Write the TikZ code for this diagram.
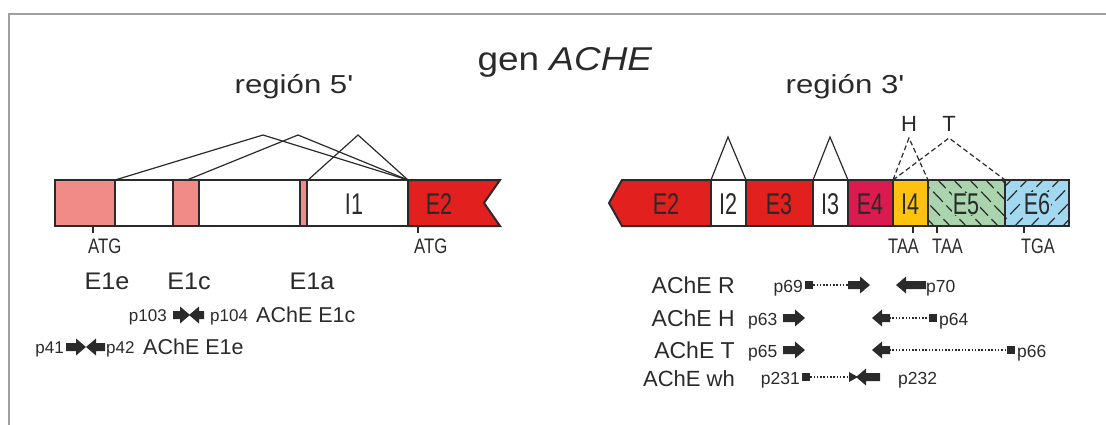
\documentclass[tikz,border=0pt]{standalone}
\usepackage{fontspec}
\setmainfont{Liberation Sans}[Ligatures=TeXOff]
\usepackage{graphicx}
\definecolor{pinkx}{HTML}{F08B87}
\definecolor{redx}{HTML}{E2201E}
\definecolor{crimx}{HTML}{DB1A50}
\definecolor{yelx}{HTML}{FFC30F}
\definecolor{grnx}{HTML}{A9D4AE}
\definecolor{blux}{HTML}{A3D8F1}
\definecolor{inkx}{HTML}{2A2A2A}
\definecolor{framex}{HTML}{A0A0A0}
\newcommand\sx[3]{\scalebox{#1}[1]{\fontsize{#2}{#2}\selectfont #3}}
\newcommand\primR[3]{\fill[inkx] ({#1},{#3-4}) -- ({#2-10},{#3-4}) -- ({#2-10},{#3-8.5}) -- ({#2},{#3}) -- ({#2-10},{#3+8.5}) -- ({#2-10},{#3+4}) -- ({#1},{#3+4}) -- cycle;}
\newcommand\primL[3]{\fill[inkx] ({#2},{#3-4}) -- ({#1+10},{#3-4}) -- ({#1+10},{#3-8.5}) -- ({#1},{#3}) -- ({#1+10},{#3+8.5}) -- ({#1+10},{#3+4}) -- ({#2},{#3+4}) -- cycle;}
\tikzset{
  exon/.style={draw=inkx, line width=2pt},
  splice/.style={draw=inkx, line width=1.2pt},
  dsplice/.style={draw=inkx, line width=1.2pt, dash pattern=on 5pt off 3pt},
  tick/.style={draw=inkx, line width=2.5pt},
  lbl/.style={inner sep=0pt, text=inkx},
  hatch/.style={draw=inkx, line width=1.2pt, dash pattern=on 14pt off 5pt},
  dots/.style={draw=inkx, line width=1.8pt, dash pattern=on 1.5pt off 1.8pt},
  sq/.style={fill=inkx, minimum size=8pt, inner sep=0pt}
}
\begin{document}
\begin{tikzpicture}[x=1pt,y=-1pt]
\useasboundingbox (0,0) rectangle (1106,424);
% frame
\draw[framex, line width=2pt] (9,425) -- (9,14) -- (1107,14);
% titles
\node[lbl, anchor=base] (title) at (565,70) {\sx{1.12}{33}{gen \textit{ACHE}}};
\node[lbl, anchor=base] (reg5) at (294,93) {\sx{1.2}{26}{región 5'}};
\node[lbl, anchor=base] (reg3) at (845,93) {\sx{1.2}{26}{región 3'}};

% ---------- left bar ----------
\path[exon, fill=pinkx] (55,180) rectangle (115,226);
\path[exon, fill=white] (115,180) rectangle (173,226);
\path[exon, fill=pinkx] (173,180) rectangle (199,226);
\path[exon, fill=white] (199,180) rectangle (300,226);
\path[exon, fill=pinkx] (300,180) rectangle (307,226);
\path[exon, fill=white] (307,180) rectangle (408,226);
\path[exon, fill=redx] (408,180) -- (500,180) -- (484,203) -- (500,226) -- (408,226) -- cycle;
\node[lbl] (i1) at (354,204) {\sx{0.72}{30}{I1}};
\node[lbl] (e2l) at (439,204) {\sx{0.72}{30}{E2}};
% splice lines left
\coordinate (s1a) at (115,180); \coordinate (s1p) at (263,135);
\coordinate (s2a) at (187,180); \coordinate (s2p) at (298,135);
\coordinate (s3a) at (308,180); \coordinate (s3p) at (358,135);
\coordinate (send) at (408,180);
\draw[splice] (s1a) -- (s1p) -- (send);
\draw[splice] (s2a) -- (s2p) -- (send);
\draw[splice] (s3a) -- (s3p) -- (send);
% ATG
\coordinate (atg1) at (93,226); \coordinate (atg2) at (418,226);
\draw[tick] (atg1) -- ++(0,7);
\draw[tick] (atg2) -- ++(0,7);
\node[lbl, anchor=base west] (atgl1) at (88,253) {\sx{0.8}{21}{ATG}};
\node[lbl, anchor=base west] (atgl2) at (414,253) {\sx{0.8}{21}{ATG}};
% exon names
\node[lbl, anchor=base] (e1e) at (107,289) {\sx{1.05}{24}{E1e}};
\node[lbl, anchor=base] (e1c) at (189,289) {\sx{1.05}{24}{E1c}};
\node[lbl, anchor=base] (e1a) at (312,289) {\sx{1.05}{24}{E1a}};
% primers left
\node[lbl, anchor=base east] (p103) at (167,321) {\fontsize{17}{17}\selectfont p103};
\primR{173}{190}{315}
\primL{189}{204}{315}
\node[lbl, anchor=base west] (p104) at (210,321) {\fontsize{17}{17}\selectfont p104};
\node[lbl, anchor=base west] (ache1c) at (256,322) {\sx{1.0}{21.5}{AChE E1c}};
\node[lbl, anchor=base east] (p41) at (64,353) {\fontsize{17}{17}\selectfont p41};
\primR{66}{86}{347}
\primL{86}{105}{347}
\node[lbl, anchor=base west] (p42) at (106,353) {\fontsize{17}{17}\selectfont p42};
\node[lbl, anchor=base west] (ache1e) at (143,354) {\sx{1.0}{21.5}{AChE E1e}};

% ---------- right bar ----------
\path[exon, fill=redx] (609,203) -- (622,180) -- (711,180) -- (711,226) -- (622,226) -- cycle;
\path[exon, fill=white] (711,180) rectangle (746,226);
\path[exon, fill=redx] (746,180) rectangle (813,226);
\path[exon, fill=white] (813,180) rectangle (848,226);
\path[exon, fill=crimx] (848,180) rectangle (893,226);
\path[exon, fill=yelx] (893,180) rectangle (928,226);
\fill[grnx] (928,180) rectangle (1005,226);
\fill[blux] (1005,180) rectangle (1069,226);
\begin{scope}
\clip (928,180) rectangle (1005,226);
\foreach \i in {-56,-40,...,90} \draw[hatch] ({928+\i},178) -- ({928+\i+48},228);
\end{scope}
\begin{scope}
\clip (1005,180) rectangle (1069,226);
\foreach \i in {-56,-40,...,80} \draw[hatch] ({1005+\i},228) -- ({1005+\i+48},178);
\end{scope}
\draw[exon] (928,180) rectangle (1005,226);
\draw[exon] (1005,180) rectangle (1069,226);
\node[lbl, fill=grnx, inner sep=1pt] (e5) at (966,204) {\sx{0.72}{30}{E5}};
\node[lbl, fill=blux, inner sep=1pt] (e6) at (1037,204) {\sx{0.72}{30}{E6}};
\node[lbl] (e2r) at (666,204) {\sx{0.72}{30}{E2}};
\node[lbl] (i2) at (728,204) {\sx{0.72}{30}{I2}};
\node[lbl] (e3) at (779,204) {\sx{0.72}{30}{E3}};
\node[lbl] (i3) at (830,204) {\sx{0.72}{30}{I3}};
\node[lbl] (e4) at (870,204) {\sx{0.72}{30}{E4}};
\node[lbl] (i4) at (910,204) {\sx{0.72}{30}{I4}};
% intron triangles
\coordinate (t2a) at (711,180); \coordinate (t2p) at (728,137); \coordinate (t2b) at (746,180);
\coordinate (t3a) at (813,180); \coordinate (t3p) at (830,137); \coordinate (t3b) at (848,180);
\draw[splice] (t2a) -- (t2p) -- (t2b);
\draw[splice] (t3a) -- (t3p) -- (t3b);
% H and T
\node[lbl] (H) at (909,124) {\fontsize{22}{22}\selectfont H};
\node[lbl] (T) at (949,124) {\fontsize{22}{22}\selectfont T};
\coordinate (d0) at (893,180); \coordinate (dH) at (909,138); \coordinate (dT) at (949,138);
\coordinate (dH2) at (928,180); \coordinate (dT2) at (1005,180);
\draw[dsplice] (d0) -- (dH) -- (dH2);
\draw[dsplice] (d0) -- (dT) -- (dT2);
% stop codons
\coordinate (taa1) at (913,226); \coordinate (taa2) at (937,226); \coordinate (tga) at (1024,226);
\draw[tick] (taa1) -- ++(0,7);
\draw[tick] (taa2) -- ++(0,7);
\draw[tick] (tga) -- ++(0,7);
\node[lbl, anchor=base west] (taal1) at (888,253) {\sx{0.78}{21}{TAA}};
\node[lbl, anchor=base west] (taal2) at (932,253) {\sx{0.78}{21}{TAA}};
\node[lbl, anchor=base west] (tgal) at (1021,253) {\sx{0.78}{21}{TGA}};

% primers right
\node[lbl, anchor=base east] (acheR) at (735,293) {\fontsize{23}{23}\selectfont AChE R};
\node[lbl, anchor=base east] (acheH) at (735,326) {\fontsize{23}{23}\selectfont AChE H};
\node[lbl, anchor=base east] (acheT) at (735,358) {\fontsize{23}{23}\selectfont AChE T};
\node[lbl, anchor=base east] (achewh) at (735,386) {\fontsize{22}{22}\selectfont AChE wh};
% row R
\node[lbl, anchor=base east] (p69) at (803,292) {\fontsize{17.5}{17.5}\selectfont p69};
\node[sq] (q69) at (809,285) {};
\coordinate (r69) at (850,285);
\draw[dots] (q69.east) -- (r69);
\primR{848}{870}{285}
\primL{896}{926}{285}
\node[lbl, anchor=base west] (p70) at (926,292) {\fontsize{17.5}{17.5}\selectfont p70};
% row H
\node[lbl, anchor=base west] (p63) at (748,325) {\fontsize{17.5}{17.5}\selectfont p63};
\primR{783}{805}{318}
\primL{872}{890}{318}
\node[sq] (q64) at (933,318) {};
\coordinate (l64) at (889,318);
\draw[dots] (l64) -- (q64.west);
\node[lbl, anchor=base west] (p64) at (939,325) {\fontsize{17.5}{17.5}\selectfont p64};
% row T
\node[lbl, anchor=base west] (p65) at (748,357) {\fontsize{17.5}{17.5}\selectfont p65};
\primR{783}{805}{350}
\primL{872}{890}{350}
\node[sq] (q66) at (1011,350) {};
\coordinate (l66) at (889,350);
\draw[dots] (l66) -- (q66.west);
\node[lbl, anchor=base west] (p66) at (1017,357) {\fontsize{17.5}{17.5}\selectfont p66};
% row wh
\node[lbl, anchor=base east] (p231) at (800,384) {\fontsize{17.5}{17.5}\selectfont p231};
\node[sq] (q231) at (806,377) {};
\coordinate (r231) at (850,377);
\draw[dots] (q231.east) -- (r231);
\fill[inkx] (849,372) -- (858,377) -- (849,382) -- cycle;
\primL{856}{880}{377}
\node[lbl, anchor=base west] (p232) at (898,384) {\fontsize{17.5}{17.5}\selectfont p232};
\end{tikzpicture}
\end{document}
